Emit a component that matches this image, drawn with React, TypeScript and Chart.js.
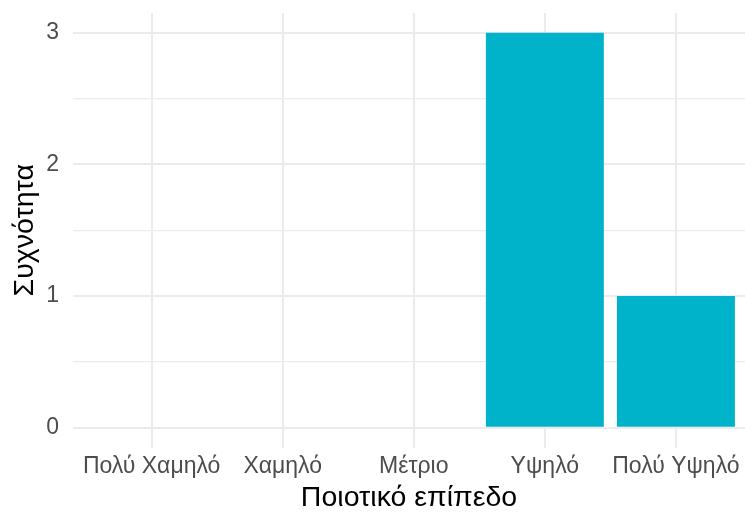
import React, { useEffect, useRef } from "react";
import { Chart, registerables } from "chart.js";

Chart.register(...registerables);

const categories = ["Πολύ Χαμηλό", "Χαμηλό", "Μέτριο", "Υψηλό", "Πολύ Υψηλό"];
const counts = [0, 0, 0, 3, 1];
const yTicks = [0, 1, 2, 3];
const yGrid = [0, 0.5, 1, 1.5, 2, 2.5, 3];
const xTitle = "Ποιοτικό επίπεδο";
const yTitle = "Συχνότητα";

const FONT = "'Liberation Sans', Arial, sans-serif";

export default function App() {
  const ref = useRef<HTMLCanvasElement>(null);
  useEffect(() => {
    document.body.style.margin = "0";
    const ctx = ref.current!.getContext("2d")!;
    const chart = new Chart(ctx, {
      type: "bar",
      data: {
        datasets: [
          {
            data: counts.map((v, i) => ({ x: i, y: v })),
            backgroundColor: "#00B3CB",
            borderWidth: 0,
            barPercentage: 0.9,
            categoryPercentage: 1,
          },
        ],
      },
      options: {
        animation: false,
        responsive: false,
        maintainAspectRatio: false,
        layout: { padding: { left: 8, right: 0, top: 13, bottom: 0 } },
        plugins: { legend: { display: false }, tooltip: { enabled: false } },
        scales: {
          x: {
            type: "linear",
            min: -0.6,
            max: 4.527,
            offset: false,
            afterBuildTicks: (axis: any) => {
              axis.ticks = categories.map((_, i) => ({ value: i }));
            },
            afterFit: (axis: any) => {
              axis.paddingLeft = 0;
              axis.paddingRight = 0;
              axis.height = 65.5;
            },
            ticks: {
              autoSkip: false,
              maxRotation: 0,
              color: "#4D4D4D",
              font: { family: FONT, size: 23, lineHeight: 1 },
              padding: 8,
              callback: (v: any) => categories[v as number] ?? "",
            },
            grid: { color: "#EBEBEB", lineWidth: 2, drawTicks: false, offset: false },
            border: { display: false },
            title: {
              display: true,
              text: xTitle,
              color: "#000000",
              font: { family: FONT, size: 28.5, lineHeight: 1 },
              padding: { top: 4, bottom: 1 },
            },
          },
          y: {
            min: -0.15,
            max: 3.15,
            afterBuildTicks: (axis: any) => {
              axis.ticks = yGrid.map((v) => ({ value: v }));
            },
            afterFit: (axis: any) => {
              axis.paddingTop = 0;
              axis.paddingBottom = 0;
              axis.width = 65;
            },
            ticks: {
              color: "#4D4D4D",
              font: { family: FONT, size: 23 },
              padding: 14,
              callback: (v: any) => (yTicks.includes(v as number) ? String(v) : ""),
            },
            grid: {
              color: "#EBEBEB",
              lineWidth: (c: any) => (Number.isInteger(c.tick?.value) ? 2 : 1.3),
              drawTicks: false,
            },
            border: { display: false },
            title: {
              display: true,
              text: yTitle,
              color: "#000000",
              font: { family: FONT, size: 28.5 },
              padding: { top: 0, bottom: 3 },
            },
          },
        },
      },
    });
    return () => chart.destroy();
  }, []);
  return (
    <div style={{ position: "absolute", left: 0, top: 0, width: 745, height: 513, background: "#fff" }}>
      <canvas ref={ref} width={745} height={513} />
    </div>
  );
}
